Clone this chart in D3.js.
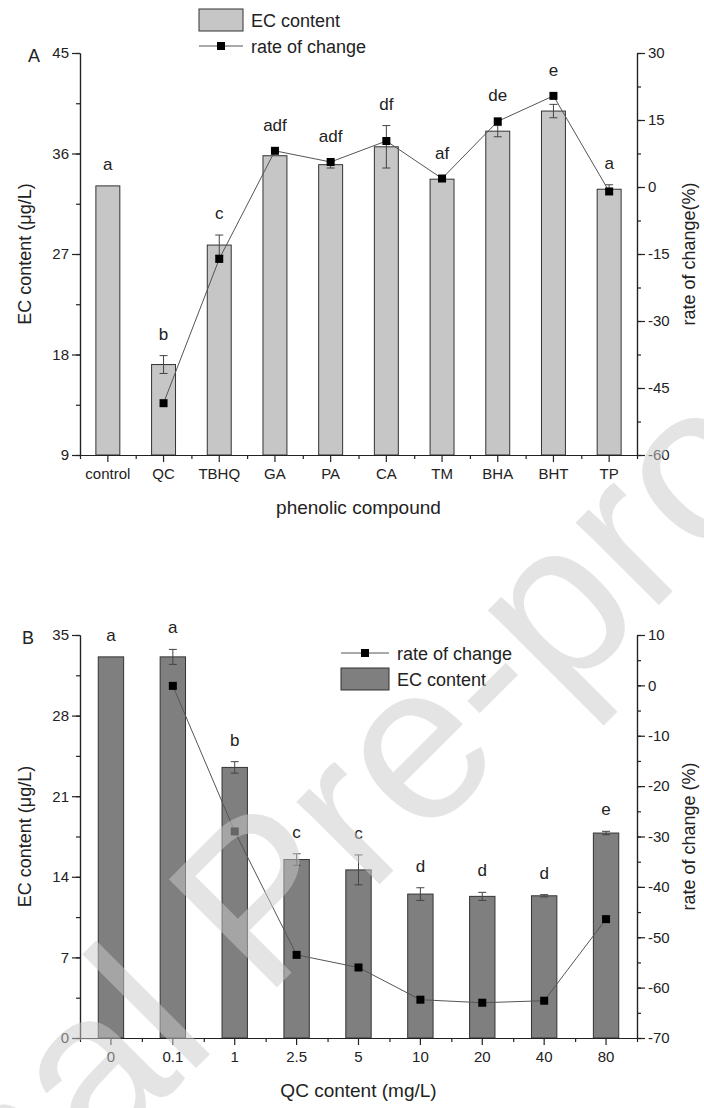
<!DOCTYPE html>
<html>
<head>
<meta charset="utf-8">
<script src="https://cdn.jsdelivr.net/npm/d3@7"></script>
<style>
body { margin: 0; background: #fff; }
text { font-family: "Liberation Sans", Arial, sans-serif; fill: #222; }
</style>
</head>
<body>
<script>
// panel A - phenolic compounds
var compoundsA = ["control", "QC", "TBHQ", "GA", "PA", "CA", "TM", "BHA", "BHT", "TP"];
var ecA = [33.1, 17.1, 27.8, 35.8, 35.0, 36.6, 33.7, 38.0, 39.8, 32.8];
var errA = [0, 0.8, 0.9, 0, 0.3, 1.9, 0.2, 0.5, 0.6, 0.4];
var rateA = [null, -48.4, -16.1, 8.1, 5.6, 10.3, 1.9, 14.7, 20.4, -1.0];
var lettersA = ["a", "b", "c", "adf", "adf", "df", "af", "de", "e", "a"];
var leftTicksA = [9, 18, 27, 36, 45];
var rightTicksA = [-60, -45, -30, -15, 0, 15, 30];

// panel B - QC concentration
var qcLevels = ["0", "0.1", "1", "2.5", "5", "10", "20", "40", "80"];
var ecB = [33.1, 33.1, 23.5, 15.5, 14.6, 12.5, 12.3, 12.35, 17.8];
var errB = [0, 0.65, 0.5, 0.5, 1.3, 0.55, 0.35, 0.1, 0.15];
var rateB = [null, -0.1, -29.0, -53.5, -56.0, -62.4, -63.0, -62.6, -46.4];
var lettersB = ["a", "a", "b", "c", "c", "d", "d", "d", "e"];
var leftTicksB = [0, 7, 14, 21, 28, 35];
var rightTicksB = [-70, -60, -50, -40, -30, -20, -10, 0, 10];

var svg = d3.select("body").append("svg")
    .attr("width", 704)
    .attr("height", 1108);

var chart = svg.append("g");

function drawPanel(o) {
    var g = chart.append("g");
    var n = o.cats.length;

    var x = d3.scaleBand().domain(o.cats).range([o.left, o.right]).padding(0);
    var xi = d3.scaleLinear().domain([0, n]).range([o.left, o.right]);
    var y = d3.scaleLinear().domain(o.yDomain).range([o.bottom, o.top]);
    var yr = d3.scaleLinear().domain(o.rDomain).range([o.bottom, o.top]);
    var bw = x.step() * o.barFrac;

    var rows = o.cats.map(function (c, i) {
        return {cat: c, ec: o.ec[i], err: o.err[i], rate: o.rate[i], letter: o.letters[i]};
    });

    // bars
    g.selectAll(".bar").data(rows).enter().append("rect")
        .attr("x", function (d) { return x(d.cat) + (x.step() - bw) / 2; })
        .attr("y", function (d) { return y(d.ec); })
        .attr("width", bw)
        .attr("height", function (d) { return o.bottom - y(d.ec); })
        .style("fill", o.barFill)
        .style("stroke", "#333")
        .style("stroke-width", 1);

    // error bars
    var eb = g.selectAll(".err").data(rows.filter(function (d) { return d.err > 0; }))
        .enter().append("g")
        .attr("transform", function (d) { return "translate(" + (x(d.cat) + x.step() / 2) + ",0)"; })
        .style("stroke", "#444")
        .style("stroke-width", 1);
    eb.append("line")
        .attr("y1", function (d) { return y(d.ec - d.err); })
        .attr("y2", function (d) { return y(d.ec + d.err); });
    eb.append("line").attr("x1", -4).attr("x2", 4)
        .attr("y1", function (d) { return y(d.ec + d.err); })
        .attr("y2", function (d) { return y(d.ec + d.err); });
    eb.append("line").attr("x1", -4).attr("x2", 4)
        .attr("y1", function (d) { return y(d.ec - d.err); })
        .attr("y2", function (d) { return y(d.ec - d.err); });

    // rate of change line
    var pts = rows.filter(function (d) { return d.rate != null; });
    var line = d3.line()
        .x(function (d) { return x(d.cat) + x.step() / 2; })
        .y(function (d) { return yr(d.rate); });
    g.append("path").datum(pts)
        .attr("d", line)
        .style("fill", "none")
        .style("stroke", "#555")
        .style("stroke-width", 1);
    g.selectAll(".pt").data(pts).enter().append("rect")
        .attr("x", function (d) { return x(d.cat) + x.step() / 2 - 4; })
        .attr("y", function (d) { return yr(d.rate) - 4; })
        .attr("width", 8)
        .attr("height", 8)
        .style("fill", "#000");

    // significance letters
    g.selectAll(".letter").data(rows).enter().append("text")
        .attr("x", function (d) { return x(d.cat) + x.step() / 2; })
        .attr("y", function (d) {
            var t = y(d.ec + d.err);
            if (d.rate != null) t = Math.min(t, yr(d.rate) - 4);
            return t - 16;
        })
        .attr("text-anchor", "middle")
        .style("font-size", "17px")
        .text(function (d) { return d.letter; });

    // axes
    var fmt = function (d) { return String(d); };
    function styleAxis(sel) {
        sel.selectAll("path,line").style("stroke", "#222").style("stroke-width", 1.2);
        sel.selectAll("text").style("font-size", "15px").style("fill", "#222")
            .style("font-family", "'Liberation Sans', Arial, sans-serif");
    }
    var minorL = d3.range(o.yDomain[0], o.yDomain[1] + 0.001, o.leftStep / 2);
    var minorR = d3.range(o.rDomain[0], o.rDomain[1] + 0.001, o.rightStep / 2);

    g.append("g").attr("transform", "translate(" + o.left + ",0)")
        .call(d3.axisLeft(y).tickValues(minorL).tickSize(4).tickSizeOuter(0).tickFormat(""))
        .call(styleAxis);
    g.append("g").attr("transform", "translate(" + o.left + ",0)")
        .call(d3.axisLeft(y).tickValues(o.leftTicks).tickSize(8).tickSizeOuter(0).tickPadding(3).tickFormat(fmt))
        .call(styleAxis);
    g.append("g").attr("transform", "translate(" + o.right + ",0)")
        .call(d3.axisRight(yr).tickValues(minorR).tickSize(4).tickSizeOuter(0).tickFormat(""))
        .call(styleAxis);
    g.append("g").attr("transform", "translate(" + o.right + ",0)")
        .call(d3.axisRight(yr).tickValues(o.rightTicks).tickSize(8).tickSizeOuter(0).tickPadding(3).tickFormat(fmt))
        .call(styleAxis);
    g.append("g").attr("transform", "translate(0," + o.bottom + ")")
        .call(d3.axisBottom(xi).tickValues(d3.range(n + 1)).tickSize(4).tickSizeOuter(0).tickFormat(""))
        .call(styleAxis);
    g.append("g").attr("transform", "translate(0," + o.bottom + ")")
        .call(d3.axisBottom(x).tickSize(7).tickSizeOuter(0).tickPadding(6))
        .call(styleAxis);

    // titles
    var midY = (o.top + o.bottom) / 2;
    g.append("text")
        .attr("transform", "translate(" + 31 + "," + midY + ") rotate(-90)")
        .attr("text-anchor", "middle")
        .style("font-size", "18px")
        .text("EC content (\u03bcg/L)");
    g.append("text")
        .attr("transform", "translate(" + 695 + "," + midY + ") rotate(-90)")
        .attr("text-anchor", "middle")
        .style("font-size", "18px")
        .text(o.rightTitle);
    g.append("text")
        .attr("x", (o.left + o.right) / 2)
        .attr("y", o.bottom + 59)
        .attr("text-anchor", "middle")
        .style("font-size", "19px")
        .text(o.xTitle);
    g.append("text")
        .attr("x", o.panelX)
        .attr("y", o.top + 9)
        .style("font-size", "18px")
        .text(o.panel);

    // legend
    var lg = g.append("g").attr("transform", "translate(" + o.legX + "," + o.legY + ")");
    var boxY = o.boxFirst ? 0 : 26;
    var lineY = o.boxFirst ? 37 : 11;
    lg.append("rect")
        .attr("x", 0).attr("y", boxY)
        .attr("width", o.boxW).attr("height", 22)
        .style("fill", o.barFill)
        .style("stroke", "#333");
    lg.append("text").attr("x", o.boxW + 8).attr("y", boxY + 18)
        .style("font-size", "18px").text("EC content");
    lg.append("line")
        .attr("x1", 0).attr("x2", o.boxW)
        .attr("y1", lineY).attr("y2", lineY)
        .style("stroke", "#555");
    lg.append("rect")
        .attr("x", o.boxW / 2 - 4).attr("y", lineY - 4)
        .attr("width", 8).attr("height", 8)
        .style("fill", "#000");
    lg.append("text").attr("x", o.boxW + 8).attr("y", lineY + 7)
        .style("font-size", "18px").text("rate of change");
}

drawPanel({
    cats: compoundsA, ec: ecA, err: errA, rate: rateA, letters: lettersA,
    leftTicks: leftTicksA, rightTicks: rightTicksA,
    yDomain: [9, 45], rDomain: [-60, 30], leftStep: 9, rightStep: 15,
    top: 53, bottom: 455, left: 80, right: 637,
    barFrac: 0.43, barFill: "#c6c6c6",
    rightTitle: "rate of change(%)", xTitle: "phenolic compound",
    panel: "A", panelX: 28,
    legX: 199, legY: 9, boxW: 44, boxFirst: true
});

drawPanel({
    cats: qcLevels, ec: ecB, err: errB, rate: rateB, letters: lettersB,
    leftTicks: leftTicksB, rightTicks: rightTicksB,
    yDomain: [0, 35], rDomain: [-70, 10], leftStep: 7, rightStep: 10,
    top: 635, bottom: 1038, left: 80, right: 637,
    barFrac: 0.41, barFill: "#7f7f7f",
    rightTitle: "rate of change (%)", xTitle: "QC content (mg/L)",
    panel: "B", panelX: 22,
    legX: 341, legY: 642, boxW: 48, boxFirst: false
});

// "Journal Pre-proof" watermark, laid over the chart like in the source page
svg.append("text")
    .attr("transform", "translate(312,952) rotate(-45)")
    .attr("text-anchor", "middle")
    .style("font-size", "222px")
    .style("fill", "#cbcbcb")
    .style("opacity", 0.5)
    .text("Journal Pre-proof");
</script>
</body>
</html>
